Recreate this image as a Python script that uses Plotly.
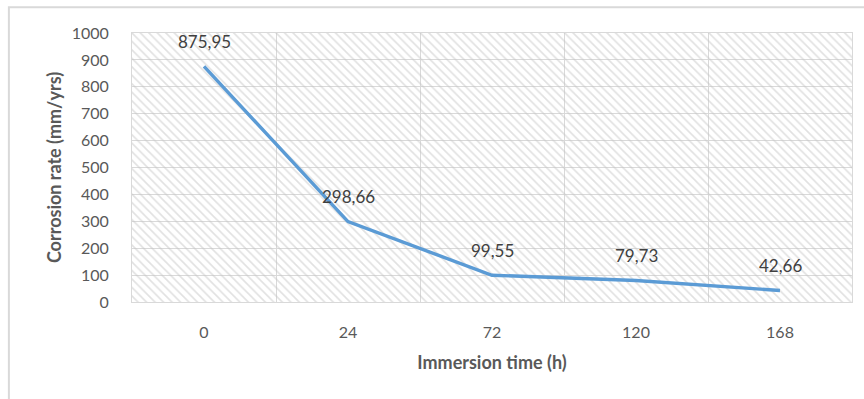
import plotly.graph_objects as go

# Corrosion rate measured after each immersion period
immersion_h = ["0", "24", "72", "120", "168"]
corrosion_rate = [875.95, 298.66, 99.55, 79.73, 42.66]

y_max = 1000
y_step = 100

FONT = "Lato"
TEXT = "#404040"
AXIS_TEXT = "#595959"
GRID = "#D9D9D9"

# evenly spaced category slots
pos = list(range(len(immersion_h)))

fig = go.Figure()

# Hatched plot-area background, one full-width band per category
fig.add_trace(go.Bar(
    x=pos,
    y=[y_max] * len(pos),
    width=1,
    marker=dict(
        color="rgba(0,0,0,0)",
        line=dict(width=0),
        pattern=dict(shape="\\", fgcolor="#C4C4C4", bgcolor="rgba(0,0,0,0)",
                     size=6, solidity=0.28),
    ),
    hoverinfo="skip",
    showlegend=False,
))

fig.add_trace(go.Scatter(
    x=pos,
    y=corrosion_rate,
    mode="lines",
    line=dict(color="#5B9BD5", width=3.4),
    showlegend=False,
))

for x, v in zip(pos, corrosion_rate):
    fig.add_annotation(
        x=x, y=v, text=f"{v:.2f}".replace(".", ","),
        showarrow=False, yshift=25,
        font=dict(family=FONT, size=17, color=TEXT),
    )

# Light frame around the whole chart
fig.add_shape(
    type="rect", xref="paper", yref="paper",
    x0=-0.171, x1=1.05, y0=-0.5, y1=1.096,
    line=dict(color="#D9D9D9", width=2), fillcolor="rgba(0,0,0,0)", layer="below",
)

fig.update_layout(
    width=864, height=399,
    margin=dict(l=132, r=12, t=33, b=97),
    paper_bgcolor="white",
    plot_bgcolor="white",
    bargap=0,
    font=dict(family=FONT, color=AXIS_TEXT),
    xaxis=dict(
        range=[-0.5, len(pos) - 0.5],
        tickmode="array", tickvals=pos, ticktext=immersion_h,
        showgrid=False,
        minor=dict(tick0=-0.5, dtick=1, showgrid=True, gridcolor=GRID, gridwidth=1, ticks=""),
        showline=True, linecolor=GRID, linewidth=1, mirror=True,
        zeroline=False,
        ticks="", ticklabelstandoff=16,
        tickfont=dict(family=FONT, size=16, color=AXIS_TEXT),
        title=dict(text="<b>Immersion time (h)</b>", standoff=16,
                   font=dict(family=FONT, size=18, color=AXIS_TEXT)),
        fixedrange=True,
    ),
    yaxis=dict(
        range=[0, y_max], dtick=y_step,
        showgrid=True, gridcolor=GRID, gridwidth=1,
        showline=True, linecolor=GRID, linewidth=1, mirror=True,
        zeroline=False,
        ticks="", ticklabelstandoff=19,
        tickfont=dict(family=FONT, size=16, color=AXIS_TEXT),
        title=dict(text="<b>Corrosion rate (mm/yrs)</b>", standoff=5,
                   font=dict(family=FONT, size=18, color=AXIS_TEXT)),
        fixedrange=True,
    ),
)

fig.write_html("out.html")
